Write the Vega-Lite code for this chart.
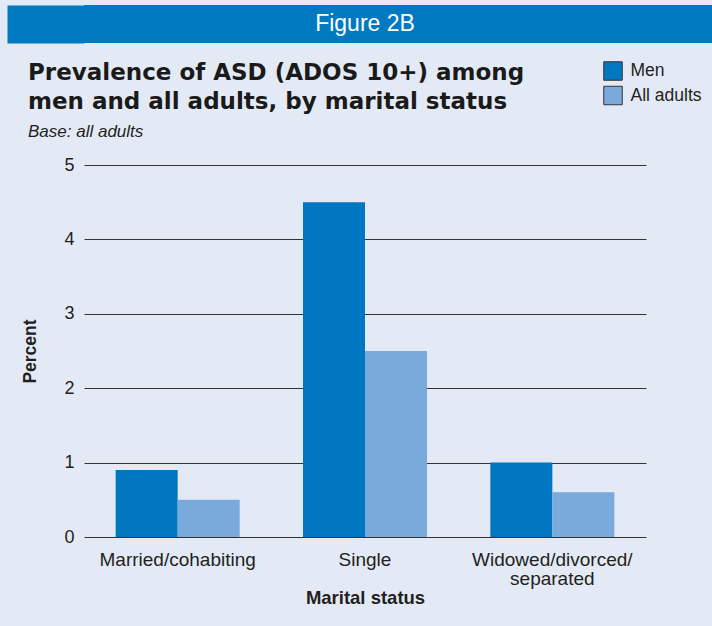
{
  "$schema": "https://vega.github.io/schema/vega-lite/v6.json",
  "background": "#e3eaf6",
  "padding": {"left": 7, "top": 5, "right": 0, "bottom": 25},
  "columns": 1,
  "spacing": 19,
  "config": {"view": {"stroke": null}, "font": "Liberation Sans"},
  "concat": [
    {
      "width": 628,
      "height": 38,
      "view": {"fill": "#0079c1", "stroke": null},
      "data": {"values": [{"label": "Figure 2B"}]},
      "mark": {"type": "text", "color": "#ffffff", "fontSize": 23, "font": "Liberation Sans", "baseline": "middle", "align": "center", "dx": -33},
      "encoding": {
        "text": {"field": "label", "type": "nominal"},
        "y": {
          "field": "label",
          "type": "nominal",
          "axis": {
            "title": null,
            "labels": false,
            "ticks": false,
            "grid": false,
            "domain": true,
            "domainColor": "#0079c1",
            "domainWidth": 77,
            "domainCap": "butt",
            "offset": 38.5
          }
        }
      }
    },
    {
      "width": 562,
      "height": 372,
      "title": {
        "text": ["Prevalence of ASD (ADOS 10+) among", "men and all adults, by marital status"],
        "subtitle": "Base: all adults",
        "anchor": "start",
        "frame": "group",
        "dx": -56,
        "font": "DejaVu Sans",
        "fontWeight": "bold",
        "fontSize": 23,
        "lineHeight": 29,
        "color": "#1a1a1a",
        "subtitleFont": "Liberation Sans",
        "subtitleFontStyle": "italic",
        "subtitleFontSize": 17,
        "subtitleColor": "#231f20",
        "subtitlePadding": 10,
        "offset": 16
      },
      "data": {
        "values": [
          {"status": "Married/cohabiting", "group": "Men", "percent": 0.9},
          {"status": "Married/cohabiting", "group": "All adults", "percent": 0.5},
          {"status": "Single", "group": "Men", "percent": 4.5},
          {"status": "Single", "group": "All adults", "percent": 2.5},
          {"status": "Widowed/divorced/separated", "group": "Men", "percent": 1.0},
          {"status": "Widowed/divorced/separated", "group": "All adults", "percent": 0.6}
        ]
      },
      "mark": {"type": "bar"},
      "encoding": {
        "x": {
          "field": "status",
          "type": "nominal",
          "sort": ["Married/cohabiting", "Single", "Widowed/divorced/separated"],
          "scale": {"paddingInner": 0.338, "paddingOuter": 0.169},
          "axis": {
            "title": "Marital status",
            "titleFontSize": 18.5,
            "titleFontWeight": "bold",
            "titleColor": "#231f20",
            "titlePadding": 0,
            "domain": false,
            "ticks": false,
            "labelAngle": 0,
            "labelFontSize": 19,
            "labelColor": "#231f20",
            "labelPadding": 13,
            "labelLineHeight": 19,
            "labelExpr": "datum.label == 'Widowed/divorced/separated' ? ['Widowed/divorced/', 'separated'] : datum.label"
          }
        },
        "xOffset": {
          "field": "group",
          "type": "nominal",
          "sort": ["Men", "All adults"],
          "scale": {"paddingInner": 0, "paddingOuter": 0}
        },
        "y": {
          "field": "percent",
          "type": "quantitative",
          "scale": {"domain": [0, 5]},
          "axis": {
            "values": [0, 1, 2, 3, 4, 5],
            "grid": true,
            "gridColor": "#333333",
            "gridWidth": 1,
            "domain": false,
            "ticks": false,
            "labelFontSize": 18,
            "labelColor": "#231f20",
            "labelPadding": 10,
            "title": ["", "Percent"],
            "titleFontSize": 17.5,
            "titleFontWeight": "bold",
            "titleColor": "#231f20",
            "titleLineHeight": 14,
            "titlePadding": 24
          }
        },
        "color": {
          "field": "group",
          "type": "nominal",
          "sort": ["Men", "All adults"],
          "scale": {"domain": ["Men", "All adults"], "range": ["#0077c0", "#7aaadb"]},
          "legend": {
            "title": null,
            "orient": "none",
            "legendX": 519,
            "legendY": 56,
            "padding": 0,
            "symbolType": "square",
            "symbolSize": 342,
            "symbolStrokeColor": "#333333",
            "symbolStrokeWidth": 1,
            "symbolOpacity": 1,
            "rowPadding": 0.5,
            "labelFontSize": 17.5,
            "labelColor": "#231f20",
            "labelOffset": 7.5
          }
        }
      }
    }
  ]
}
